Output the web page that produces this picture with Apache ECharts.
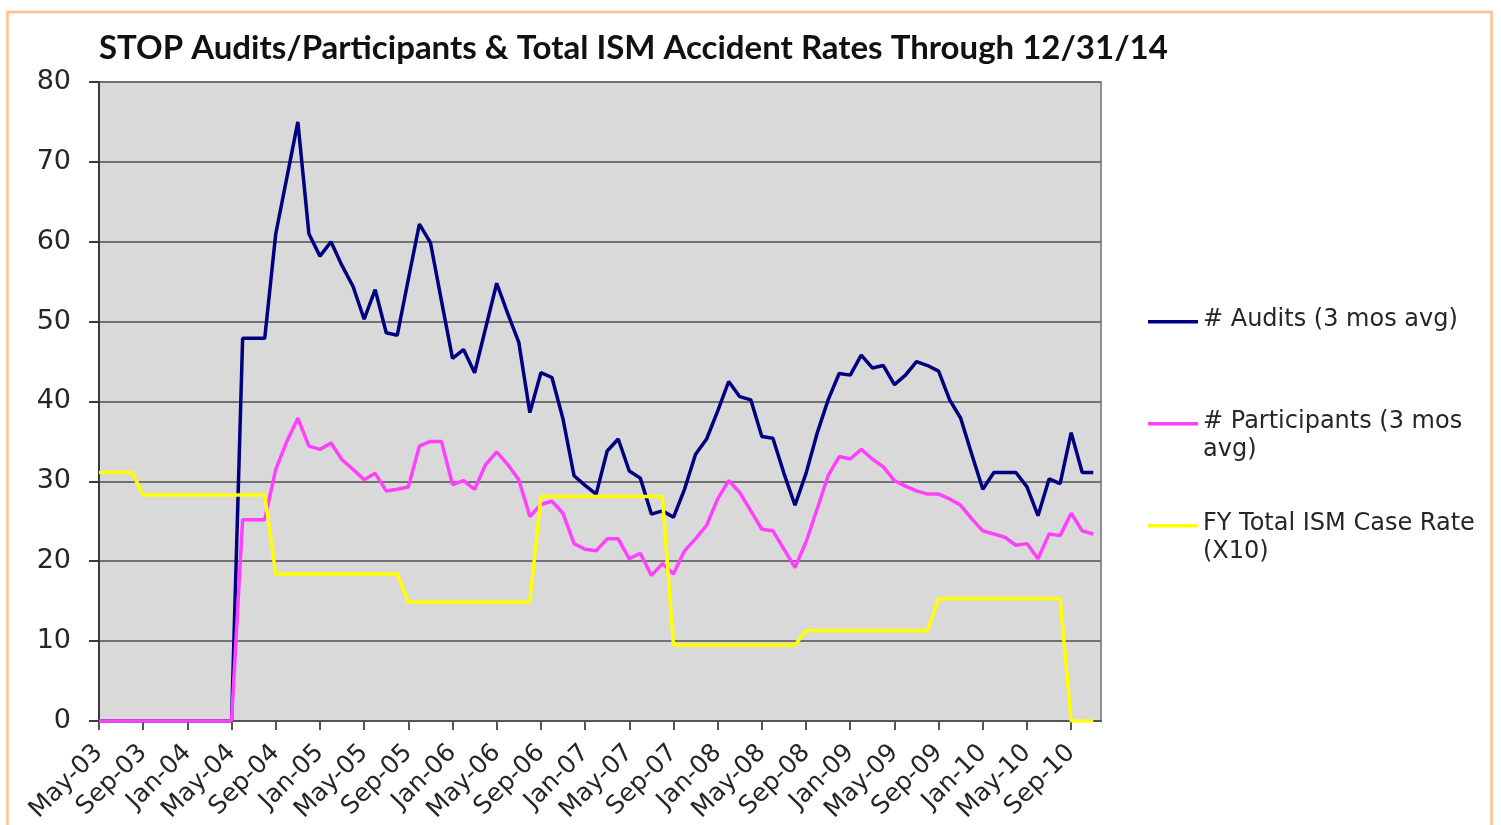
<!DOCTYPE html>
<html>
<head>
<meta charset="utf-8">
<script src="https://cdn.jsdelivr.net/npm/echarts@6/dist/echarts.min.js"></script>
<style>
  html, body { margin: 0; padding: 0; background: #ffffff; }
  #chart { width: 1501px; height: 825px; }
</style>
</head>
<body>
<div id="chart"></div>
<script>
// ---- Data ----
const months = [
  'May-03','Jun-03','Jul-03','Aug-03','Sep-03','Oct-03','Nov-03','Dec-03',
  'Jan-04','Feb-04','Mar-04','Apr-04','May-04','Jun-04','Jul-04','Aug-04','Sep-04','Oct-04','Nov-04','Dec-04',
  'Jan-05','Feb-05','Mar-05','Apr-05','May-05','Jun-05','Jul-05','Aug-05','Sep-05','Oct-05','Nov-05','Dec-05',
  'Jan-06','Feb-06','Mar-06','Apr-06','May-06','Jun-06','Jul-06','Aug-06','Sep-06','Oct-06','Nov-06','Dec-06',
  'Jan-07','Feb-07','Mar-07','Apr-07','May-07','Jun-07','Jul-07','Aug-07','Sep-07','Oct-07','Nov-07','Dec-07',
  'Jan-08','Feb-08','Mar-08','Apr-08','May-08','Jun-08','Jul-08','Aug-08','Sep-08','Oct-08','Nov-08','Dec-08',
  'Jan-09','Feb-09','Mar-09','Apr-09','May-09','Jun-09','Jul-09','Aug-09','Sep-09','Oct-09','Nov-09','Dec-09',
  'Jan-10','Feb-10','Mar-10','Apr-10','May-10','Jun-10','Jul-10','Aug-10','Sep-10','Oct-10','Nov-10'
];

const tickLabels = ['May-03','Sep-03','Jan-04','May-04','Sep-04','Jan-05','May-05','Sep-05',
  'Jan-06','May-06','Sep-06','Jan-07','May-07','Sep-07','Jan-08','May-08','Sep-08',
  'Jan-09','May-09','Sep-09','Jan-10','May-10','Sep-10'];

const audits = [
  0,0,0,0,0,0,0,0,0,0,0,0,0,
  47.9,47.9,47.9,61,68,75,61,58.2,60,57,54.4,50.3,54,48.6,48.3,55.3,62.2,59.9,52.6,
  45.4,46.5,43.6,49.2,54.8,51,47.4,38.6,43.6,43,37.8,30.7,29.5,28.4,33.8,35.3,31.3,30.4,
  25.9,26.3,25.5,29,33.4,35.3,38.8,42.5,40.6,40.2,35.6,35.4,31,27,31,36,40.2,43.5,43.3,
  45.8,44.2,44.5,42.1,43.3,45,44.5,43.8,40.2,37.9,33.4,29,31.1,31.1,31.1,29.3,25.7,30.3,
  29.7,36.1,31.1,31.1
];

const participants = [
  0,0,0,0,0,0,0,0,0,0,0,0,0,
  25.2,25.2,25.2,31.5,35,37.9,34.4,34,34.8,32.7,31.5,30.2,31,28.8,29,29.3,34.4,35,35,
  29.6,30.1,29,32.1,33.7,32.1,30.2,25.6,27.1,27.5,26,22.2,21.5,21.3,22.8,22.8,20.3,21,
  18.2,19.7,18.4,21.3,22.8,24.5,27.8,30.1,28.6,26.3,24,23.8,21.5,19.2,22.4,26.5,30.7,33.1,
  32.8,34,32.8,31.8,30.1,29.4,28.8,28.4,28.4,27.8,27,25.3,23.8,23.4,23,22,22.2,20.3,23.4,
  23.2,26,23.8,23.4
];

const caseRate = [
  31.1,31.1,31.1,31.1,
  28.3,28.3,28.3,28.3,28.3,28.3,28.3,28.3,28.3,28.3,28.3,28.3,
  18.4,18.4,18.4,18.4,18.4,18.4,18.4,18.4,18.4,18.4,18.4,18.4,
  14.9,14.9,14.9,14.9,14.9,14.9,14.9,14.9,14.9,14.9,14.9,14.9,
  28.1,28.1,28.1,28.1,28.1,28.1,28.1,28.1,28.1,28.1,28.1,28.1,
  9.5,9.5,9.5,9.5,9.5,9.5,9.5,9.5,9.5,9.5,9.5,9.5,
  11.3,11.3,11.3,11.3,11.3,11.3,11.3,11.3,11.3,11.3,11.3,11.3,
  15.3,15.3,15.3,15.3,15.3,15.3,15.3,15.3,15.3,15.3,15.3,15.3,
  0,0,0
];

const seriesNames = ['# Audits (3 mos avg)', '# Participants (3 mos avg)', 'FY Total ISM Case Rate (X10)'];
const legendText = ['# Audits (3 mos avg)\n ', '# Participants (3 mos\navg)', 'FY Total ISM Case Rate\n(X10)'];
const colors = ['#000080', '#ff40ff', '#ffff00'];
const titleText = 'STOP Audits/Participants & Total ISM Accident Rates Through 12/31/14';

// ---- Chart ----
const chart = echarts.init(document.getElementById('chart'), null, { renderer: 'canvas' });
const tickIdx = tickLabels.map(t => months.indexOf(t));
const toPairs = arr => arr.map((v, i) => [i, v]);
const legendIcon = 'path://M0,0h50v3.4h-50z M0,27.9h0.05v0.1h-0.05z';
const axisFont = 'DejaVu Sans, Verdana, sans-serif';

chart.setOption({
  animation: false,
  backgroundColor: '#ffffff',
  graphic: [{
    type: 'rect',
    shape: { x: 7.5, y: 12, width: 1484, height: 850 },
    style: { fill: 'none', stroke: '#ffc08f', lineWidth: 2.5 },
    silent: true, z: -10
  }],
  title: {
    text: titleText,
    left: 94, top: 27,
    textStyle: { fontFamily: 'Lato, sans-serif', fontWeight: 'bold', fontSize: 33, color: '#111111' }
  },
  legend: {
    orient: 'vertical',
    left: 1148, top: 306,
    padding: 0,
    itemGap: 46,
    itemWidth: 50, itemHeight: 28,
    selectedMode: false,
    data: seriesNames.map(n => ({ name: n, icon: legendIcon })),
    formatter: name => legendText[seriesNames.indexOf(name)],
    textStyle: { fontFamily: axisFont, fontSize: 24, lineHeight: 28, color: '#262626' }
  },
  grid: {
    left: 99, top: 82, width: 1002, height: 641,
    show: true, backgroundColor: '#d9d9d9', borderColor: '#8f8f8f', borderWidth: 2
  },
  xAxis: {
    type: 'value', min: 0, max: 90.7, interval: 4,
    axisLine: { show: true, onZero: true, lineStyle: { color: '#555555', width: 2 } },
    axisTick: { show: true, length: 9, customValues: tickIdx, lineStyle: { color: '#555555', width: 2 } },
    axisLabel: {
      customValues: tickIdx,
      formatter: v => months[Math.round(v)] || '',
      rotate: 45, margin: 28,
      fontFamily: axisFont, fontSize: 25, color: '#262626'
    },
    splitLine: { show: false }
  },
  yAxis: {
    type: 'value', min: 0, max: 80, interval: 10,
    axisLine: { show: true, lineStyle: { color: '#3a3a3a', width: 2 } },
    axisTick: { show: true, length: 10, lineStyle: { color: '#3a3a3a', width: 2 } },
    axisLabel: { margin: 28, fontFamily: axisFont, fontSize: 27, color: '#262626' },
    splitLine: { show: true, lineStyle: { color: '#727272', width: 2 } }
  },
  series: [
    { name: seriesNames[0], type: 'line', data: toPairs(audits), symbol: 'none',
      lineStyle: { color: colors[0], width: 3.5 }, itemStyle: { color: colors[0] } },
    { name: seriesNames[1], type: 'line', data: toPairs(participants), symbol: 'none',
      lineStyle: { color: colors[1], width: 3.5 }, itemStyle: { color: colors[1] } },
    { name: seriesNames[2], type: 'line', data: toPairs(caseRate), symbol: 'none',
      lineStyle: { color: colors[2], width: 3.5 }, itemStyle: { color: colors[2] } }
  ]
});
</script>
</body>
</html>
